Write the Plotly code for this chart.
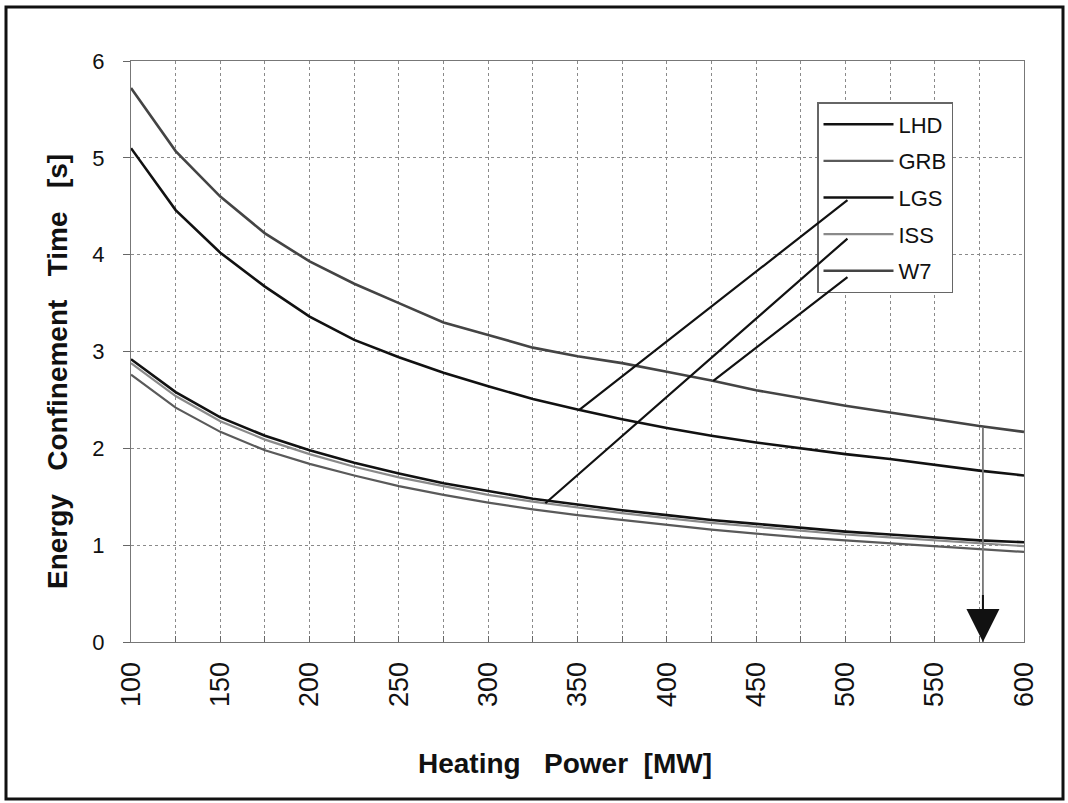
import numpy as np
import plotly.graph_objects as go

# Heating power [MW]
power = [100, 125, 150, 175, 200, 225, 250, 275, 300, 325, 350,
         375, 400, 425, 450, 475, 500, 525, 550, 575, 600]

# Energy confinement time [s] for each scaling law
lhd = [2.92, 2.58, 2.32, 2.13, 1.98, 1.85, 1.74, 1.64, 1.56, 1.48, 1.42,
       1.36, 1.31, 1.26, 1.22, 1.18, 1.14, 1.11, 1.08, 1.05, 1.03]
grb = [2.76, 2.42, 2.17, 1.98, 1.84, 1.72, 1.61, 1.52, 1.44, 1.37, 1.31,
       1.26, 1.21, 1.16, 1.12, 1.08, 1.05, 1.02, 0.99, 0.96, 0.93]
lgs = [5.10, 4.46, 4.02, 3.67, 3.36, 3.12, 2.94, 2.78, 2.64, 2.51, 2.40,
       2.30, 2.21, 2.13, 2.06, 2.00, 1.94, 1.89, 1.83, 1.77, 1.72]
iss = [2.88, 2.54, 2.28, 2.09, 1.94, 1.81, 1.70, 1.61, 1.52, 1.45, 1.39,
       1.33, 1.28, 1.23, 1.19, 1.15, 1.11, 1.08, 1.05, 1.02, 0.99]
w7 = [5.72, 5.07, 4.60, 4.22, 3.93, 3.70, 3.50, 3.30, 3.17, 3.04, 2.95,
      2.88, 2.79, 2.70, 2.60, 2.52, 2.44, 2.37, 2.30, 2.23, 2.17]

series = [
    ("LHD", lhd, "#111111", 2.6),
    ("GRB", grb, "#5a5a5a", 2.2),
    ("LGS", lgs, "#111111", 2.6),
    ("ISS", iss, "#8a8a8a", 2.2),
    ("W7", w7, "#444444", 2.6),
]

x_ticks = list(range(100, 601, 25))
x_ticktext = [str(v) if v % 50 == 0 else "" for v in x_ticks]
y_ticks = [0, 1, 2, 3, 4, 5, 6]

FONT = "Liberation Sans, Arial, sans-serif"
SP = "\u00a0" * 3

fig = go.Figure()
for i, (name, vals, color, width) in enumerate(series):
    fig.add_trace(go.Scatter(
        x=power, y=vals, mode="lines", name=name,
        legendgroup=f"g{i}",
        line=dict(color=color, width=width),
    ))

# Leader lines from the legend entries to their curves
leaders = [
    ("LGS", lgs, 351, 4.575),
    ("ISS", iss, 332, 4.18),
    ("W7", w7, 426, 3.78),
]
annotations = []
for name, vals, xp, y_leg in leaders:
    annotations.append(dict(
        x=xp, y=float(np.interp(xp, power, vals)), xref="x", yref="y",
        ax=502, ay=y_leg, axref="x", ayref="y",
        text="", showarrow=True, arrowhead=0, arrowwidth=2.2,
        arrowcolor="#111111", standoff=0,
    ))

# Vertical marker dropping from the W7 curve to the power axis
p_mark = 577
annotations.append(dict(
    x=p_mark, y=0, xref="x", yref="y",
    ax=p_mark, ay=float(np.interp(p_mark, power, w7)), axref="x", ayref="y",
    text="", showarrow=True, arrowhead=0, arrowwidth=1.8,
    arrowcolor="#777777", standoff=0,
))
annotations.append(dict(
    x=p_mark, y=0, xref="x", yref="y",
    ax=p_mark, ay=0.5, axref="x", ayref="y",
    text="", showarrow=True, arrowhead=2, arrowwidth=2, arrowsize=3.3,
    arrowcolor="#111111", standoff=0,
))

# Axis titles
annotations.append(dict(
    x=(57 - 131) / 893, y=(642 - 372) / 581, xref="paper", yref="paper",
    textangle=-90,
    text=f"<b>Energy{SP}Confinement{SP}Time{SP}[s]</b>",
    showarrow=False, font=dict(family=FONT, size=28, color="#111111"),
    xanchor="center", yanchor="middle",
))
annotations.append(dict(
    x=(565 - 131) / 893, y=(642 - 763) / 581, xref="paper", yref="paper",
    text=f"<b>Heating{SP}Power\u00a0\u00a0[MW]</b>",
    showarrow=False, font=dict(family=FONT, size=28, color="#111111"),
    xanchor="center", yanchor="middle",
))

# Outer frame around the whole figure
shapes = [dict(
    type="rect", xref="paper", yref="paper",
    x0=(6 - 131) / 893, x1=(1063 - 131) / 893,
    y0=(642 - 799) / 581, y1=(642 - 7) / 581,
    line=dict(color="#111111", width=3), fillcolor="rgba(0,0,0,0)",
    layer="above",
)]

fig.update_layout(
    width=1068, height=803,
    margin=dict(l=131, r=44, t=61, b=161),
    paper_bgcolor="white", plot_bgcolor="white",
    font=dict(family=FONT, color="#111111"),
    showlegend=True,
    legend=dict(
        x=(817 - 131) / 893, y=(642 - 102) / 581,
        xanchor="left", yanchor="top",
        bgcolor="white", bordercolor="#666666", borderwidth=1.5,
        font=dict(family=FONT, size=22, color="#111111"),
        tracegroupgap=5, itemwidth=70,
    ),
    annotations=annotations,
    shapes=shapes,
)

fig.update_xaxes(
    range=[100, 600], tickmode="array", tickvals=x_ticks, ticktext=x_ticktext,
    tickangle=-90, tickfont=dict(family=FONT, size=27, color="#111111"),
    ticks="inside", ticklen=6, tickcolor="#666666",
    showgrid=True, gridcolor="#8a8a8a", griddash="dot", gridwidth=1,
    showline=True, linecolor="#777777", linewidth=1.2, mirror=True,
    zeroline=False, ticklabelstandoff=8,
)
fig.update_yaxes(
    range=[0, 6], tickmode="array", tickvals=y_ticks,
    tickfont=dict(family=FONT, size=22, color="#111111"),
    ticks="outside", ticklen=7, tickcolor="#666666",
    showgrid=True, gridcolor="#8a8a8a", griddash="dot", gridwidth=1,
    showline=True, linecolor="#777777", linewidth=1.2, mirror=True,
    zeroline=False, ticklabelstandoff=14,
)

fig.write_html("out.html")
